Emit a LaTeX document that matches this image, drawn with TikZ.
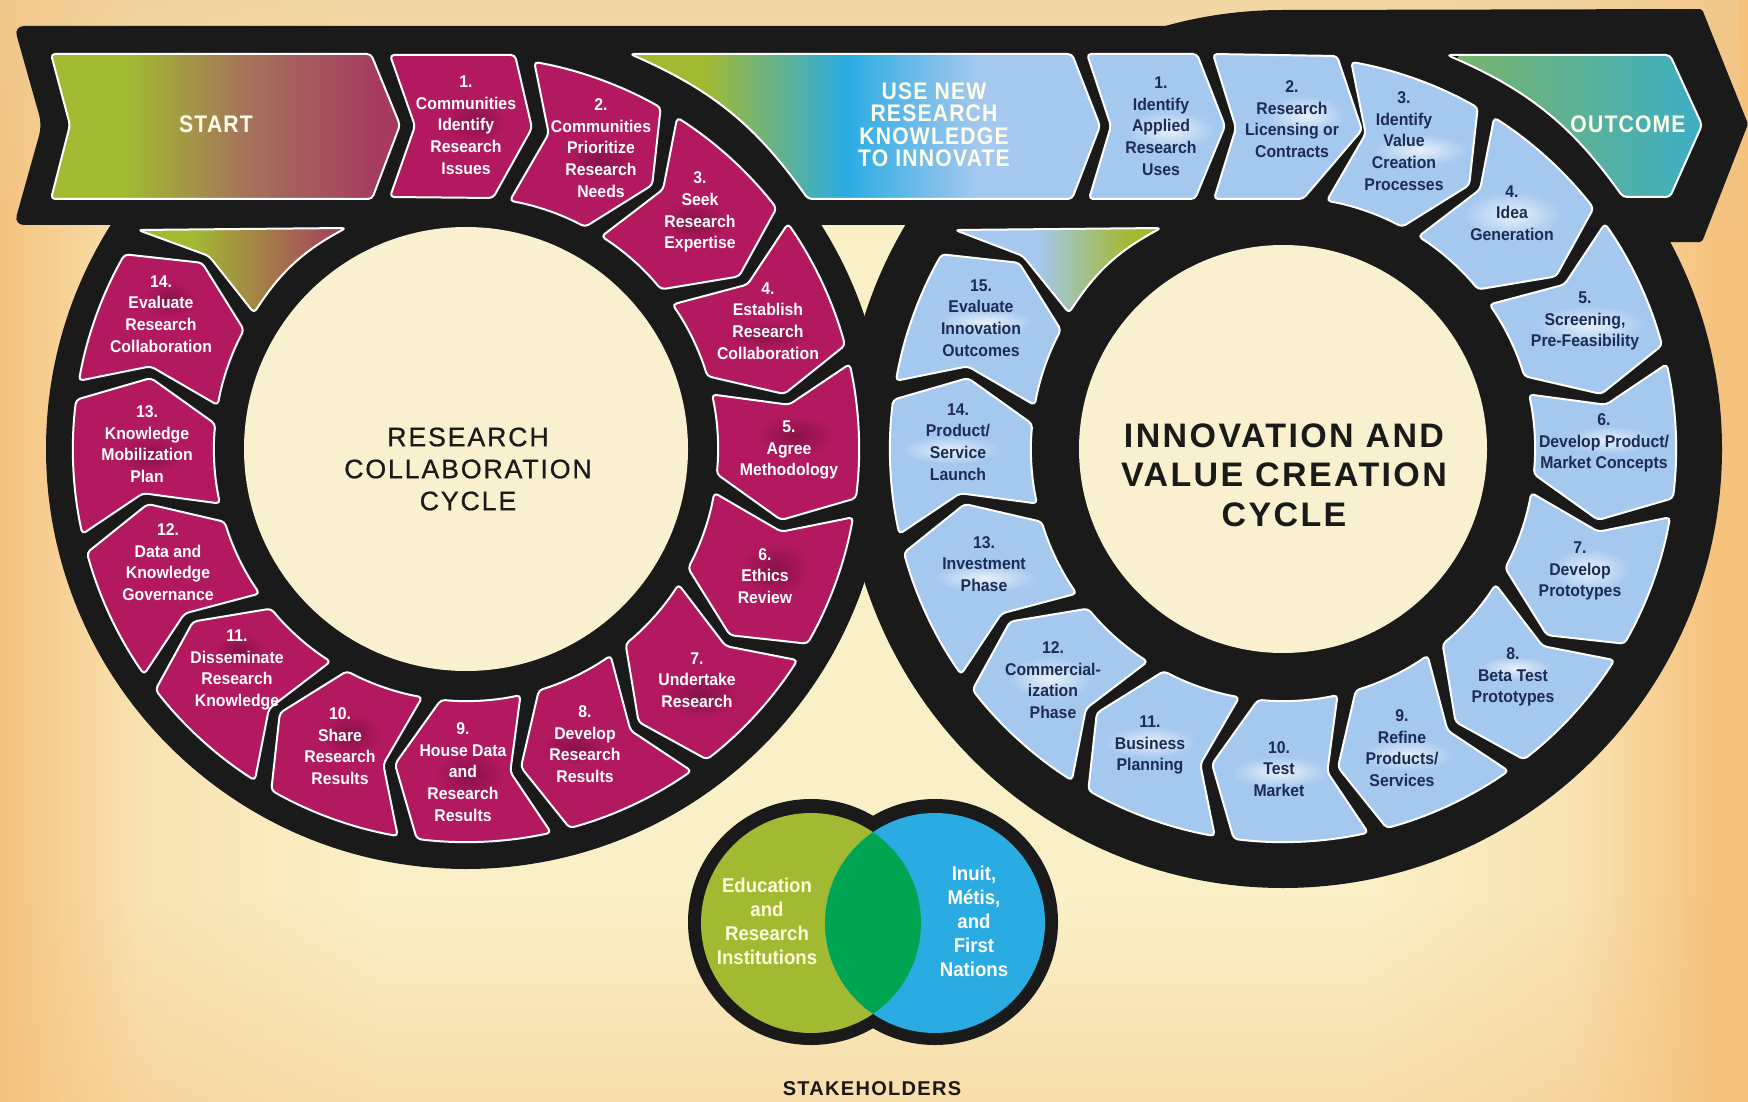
\documentclass[tikz,border=0pt]{standalone}
\usepackage{fontspec}
\usetikzlibrary{calc,fadings}
\setmainfont{Liberation Sans}
\newfontfamily\segf[FakeStretch=0.93]{Liberation Sans Bold}
\newfontfamily\headf[FakeStretch=0.88,LetterSpace=5]{Liberation Sans Bold}
\newfontfamily\cycf[LetterSpace=7,FakeBold=0.7]{Liberation Sans}
\newfontfamily\cycb[LetterSpace=7]{Liberation Sans Bold}
\newfontfamily\stakef[LetterSpace=6.5]{Liberation Sans Bold}
\definecolor{ink}{HTML}{1A1A1A}
\definecolor{crim}{HTML}{B3195E}
\definecolor{crimd}{HTML}{6A0F3A}
\definecolor{lblue}{HTML}{A4C8EE}
\definecolor{navy}{HTML}{1D2C55}
\definecolor{cream}{HTML}{F8F0CE}
\definecolor{gr}{HTML}{A2B932}
\definecolor{grb}{HTML}{8CB64A}
\definecolor{cy}{HTML}{2AACE2}
\definecolor{lens}{HTML}{00A551}
\definecolor{tanA}{HTML}{F5C27E}
\definecolor{tanB}{HTML}{FAF0C8}
\definecolor{tanC}{HTML}{F9E3B2}
\definecolor{tanT}{HTML}{EFCB92}
\definecolor{mauve}{HTML}{A63A60}
\definecolor{brown}{HTML}{A5735A}
\pgfdeclarehorizontalshading{bgh}{100bp}{color(0bp)=(tanA);color(25bp)=(tanA);color(29bp)=(tanC);color(36bp)=(tanB);color(64bp)=(tanB);color(70bp)=(tanC);color(74bp)=(tanA);color(100bp)=(tanA)}
\pgfdeclarehorizontalshading{usenew}{100bp}{color(0bp)=(gr);color(33bp)=(gr);color(48bp)=(cy);color(62bp)=(lblue);color(100bp)=(lblue)}
\pgfdeclarehorizontalshading{startg}{100bp}{color(0bp)=(gr);color(36bp)=(gr);color(53bp)=(brown);color(72bp)=(mauve);color(100bp)=(mauve)}
\pgfdeclarehorizontalshading{trileft}{100bp}{color(0bp)=(gr);color(38bp)=(gr);color(75bp)=(mauve);color(100bp)=(mauve)}
\pgfdeclarehorizontalshading{triright}{100bp}{color(0bp)=(lblue);color(45bp)=(lblue);color(67bp)=(gr);color(100bp)=(gr)}
\tikzfading[name=topfade,top color=transparent!30,bottom color=transparent!100]
\tikzfading[name=botfade,bottom color=transparent!60,top color=transparent!100]
\tikzfading[name=blot,inner color=transparent!0,outer color=transparent!100]
\tikzset{
  panel/.style={draw=white,line width=2pt,rounded corners=4pt,line join=round},
  redseg/.style={panel,fill=crim},
  blueseg/.style={panel,fill=lblue},
  redtext/.style={align=center,inner sep=0pt,text=white,font=\segf\fontsize{17}{21.7}\selectfont},
  bluetext/.style={align=center,inner sep=0pt,text=navy,font=\segf\fontsize{17}{21.7}\selectfont},
  headtext/.style={align=center,inner sep=0pt,text=white!92!yellow,font=\headf\fontsize{24}{22.5}\selectfont},
  venntext/.style={align=center,inner sep=0pt,font=\segf\fontsize{20}{24}\selectfont}
}
\newcommand{\ringseg}[4]{%
  \pgfmathsetmacro\aone{#3-19.7}
  \pgfmathsetmacro\ain{\aone+1.5}
  \path[#4] ($(#1,#2)+(#3:393)$) arc[start angle=#3,end angle=\aone,radius=393]
    -- ($(#1,#2)+(\aone-5.5:323)$)
    -- ($(#1,#2)+(\ain:252)$) arc[start angle=\ain,end angle=#3,radius=252]
    -- ($(#1,#2)+(#3-4.7:326)$) -- cycle;
}
\newcommand{\darkblot}[4]{\fill[crimd,opacity=.6,path fading=blot] (#1,#2) ellipse[x radius=#3,y radius=#4];}
\newcommand{\cloud}[4]{\fill[white,opacity=.75,path fading=blot] (#1,#2) ellipse[x radius=#3,y radius=#4];}
\begin{document}
\begin{tikzpicture}[x=1pt,y=1pt]
\useasboundingbox (0,0) rectangle (1748,-1102);
% paper
\shade[shading=bgh] (0,0) rectangle (1748,-1102);
\fill[tanT,path fading=topfade] (0,0) rectangle (1748,-240);
\fill[tanA,path fading=botfade] (0,-900) rectangle (1748,-1102);
% black body
\fill[ink] (466,-449) circle[radius=420];
\fill[ink] (1283,-449) circle[radius=439];
\fill[ink,rounded corners=10pt] (14,-26) -- (1283,-26) -- (1283,-100) -- (1283,-225) -- (14,-225) -- (42,-125) -- cycle;
\fill[ink] (1283,-10) [rounded corners=2pt] -- (1702,-9) -- (1748,-124) -- (1702,-242) [sharp corners] -- (1283,-242) -- cycle;
\fill[cream] (466,-449) circle[radius=222];
\fill[cream] (1283,-449) circle[radius=204];
% top band arrows
\draw[panel,shading=startg] (200,-54) -- (371,-54) -- (400,-125) -- (372,-199) -- (51,-199) -- (70,-125) -- (51,-54) -- cycle;
\draw[panel,shading=usenew] (800,-54) -- (1072,-54) -- (1100,-126) -- (1072,-199) -- (808,-199) to[bend right=15.6] (630,-54) -- cycle;
\begin{scope}
\clip[rounded corners=4pt] (1560,-55) -- (1670,-55) -- (1702,-125) -- (1670,-197) -- (1623,-197) to[bend right=15.6] (1447,-55) -- cycle;
\shade[left color=grb,right color=cy,rotate around={-25:(1575,-126)}] (1440,-320) rectangle (1710,70);
\end{scope}
\draw[panel] (1560,-55) -- (1670,-55) -- (1702,-125) -- (1670,-197) -- (1623,-197) to[bend right=15.6] (1447,-55) -- cycle;
% triangles
\draw[panel,shading=trileft] (240,-229) -- (346,-228) to[bend right=14.4] (254,-313) -- (209,-256) -- (138,-230) -- cycle;
\draw[panel,shading=triright] (1060,-229) -- (1161,-228) to[bend right=14.4] (1069,-313) -- (1023,-256) -- (955,-230) -- cycle;
% red segments
\path[redseg] (390,-55) -- (515,-55) -- (532,-128) -- (493,-198) -- (390,-197) -- (415,-126) -- cycle;
\foreach \a in {80,57.5,35,12.5,-10,-32.5,-55,-77.5,-100,-122.5,-145,-167.5,-190}{\ringseg{466}{-449}{\a}{redseg}}
% blue segments
\path[blueseg] (1087,-54) -- (1197,-54) -- (1225,-126) -- (1195,-199) -- (1089,-199) -- (1111,-126) -- cycle;
\path[blueseg] (1213,-54) -- (1337,-56) -- (1362,-130) -- (1303,-199) -- (1214,-199) -- (1236,-128) -- cycle;
\foreach \a in {80,57.5,35,12.5,-10,-32.5,-55,-77.5,-100,-122.5,-145,-167.5,-190}{\ringseg{1283}{-449}{\a}{blueseg}}
% blotches behind the labels
\darkblot{475}{-122}{30}{20}\darkblot{600}{-160}{32}{24}\darkblot{695}{-222}{32}{22}\darkblot{768}{-335}{40}{14}
\darkblot{795}{-436}{38}{20}\darkblot{775}{-570}{34}{28}\darkblot{700}{-695}{38}{24}\darkblot{575}{-748}{34}{16}
\darkblot{470}{-775}{34}{24}\darkblot{350}{-735}{30}{22}\darkblot{240}{-650}{24}{18}\darkblot{150}{-455}{34}{18}\darkblot{170}{-300}{26}{18}
\cloud{1170}{-130}{45}{20}\cloud{1305}{-115}{40}{20}\cloud{1420}{-150}{48}{16}\cloud{1512}{-215}{50}{24}
\cloud{1590}{-325}{55}{20}\cloud{1610}{-440}{45}{14}\cloud{1590}{-570}{40}{22}\cloud{1515}{-668}{38}{12}
\cloud{1408}{-755}{45}{16}\cloud{1280}{-772}{50}{16}\cloud{1150}{-742}{46}{16}\cloud{1050}{-678}{42}{22}
\cloud{985}{-578}{52}{14}\cloud{950}{-450}{50}{14}\cloud{985}{-322}{48}{14}
% head labels
\node[headtext] (start) at (216,-124) {START};
\node[headtext] (usenew) at (934,-124.5) {USE NEW\\RESEARCH\\KNOWLEDGE\\TO INNOVATE};
\node[headtext] (outcome) at (1628,-124) {OUTCOME};
% red labels
\node[redtext] (r1) at (466,-125) {1.\\Communities\\Identify\\Research\\Issues};
\node[redtext] (r2) at (601,-148) {2.\\Communities\\Prioritize\\Research\\Needs};
\node[redtext] (r3) at (700,-212) {3.\\Seek\\Research\\Expertise};
\node[redtext] (r4) at (768,-321) {4.\\Establish\\Research\\Collaboration};
\node[redtext] (r5) at (789,-450) {5.\\Agree\\Methodology};
\node[redtext] (r6) at (765,-576) {6.\\Ethics\\Review};
\node[redtext] (r7) at (697,-680) {7.\\Undertake\\Research};
\node[redtext] (r8) at (585,-744) {8.\\Develop\\Research\\Results};
\node[redtext] (r9) at (463,-772) {9.\\House Data\\and\\Research\\Results};
\node[redtext] (r10) at (340,-746) {10.\\Share\\Research\\Results};
\node[redtext] (r11) at (237,-670) {11.\\Disseminate\\Research\\Knowledge};
\node[redtext] (r12) at (168,-562) {12.\\Data and\\Knowledge\\Governance};
\node[redtext] (r13) at (147,-444) {13.\\Knowledge\\Mobilization\\Plan};
\node[redtext] (r14) at (161,-314) {14.\\Evaluate\\Research\\Collaboration};
% blue labels
\node[bluetext] (b1) at (1161,-126) {1.\\Identify\\Applied\\Research\\Uses};
\node[bluetext] (b2) at (1292,-119) {2.\\Research\\Licensing or\\Contracts};
\node[bluetext] (b3) at (1404,-141) {3.\\Identify\\Value\\Creation\\Processes};
\node[bluetext] (b4) at (1512,-213) {4.\\Idea\\Generation};
\node[bluetext] (b5) at (1585,-321) {5.\\Screening,\\Pre-Feasibility};
\node[bluetext] (b6) at (1604,-443) {6.\\Develop Product/\\Market Concepts};
\node[bluetext] (b7) at (1580,-571) {7.\\Develop\\Prototypes};
\node[bluetext] (b8) at (1513,-677) {8.\\Beta Test\\Prototypes};
\node[bluetext] (b9) at (1402,-748) {9.\\Refine\\Products/\\Services};
\node[bluetext] (b10) at (1279,-769) {10.\\Test\\Market};
\node[bluetext] (b11) at (1150,-745) {11.\\Business\\Planning};
\node[bluetext] (b12) at (1053,-680) {12.\\Commercial-\\ization\\Phase};
\node[bluetext] (b13) at (984,-564) {13.\\Investment\\Phase};
\node[bluetext] (b14) at (958,-442) {14.\\Product/\\Service\\Launch};
\node[bluetext] (b15) at (981,-318) {15.\\Evaluate\\Innovation\\Outcomes};
% cycle titles
\node[align=center,inner sep=0pt,text=ink,font=\cycf\fontsize{26.7}{32}\selectfont] (rcc) at (468,-469) {RESEARCH\\COLLABORATION\\CYCLE};
\node[align=center,inner sep=0pt,text=ink,font=\cycb\fontsize{34}{39.5}\selectfont] (ivc) at (1284,-475) {INNOVATION AND\\VALUE CREATION\\CYCLE};
% stakeholders
\fill[ink] (811,-922) circle[radius=123];
\fill[ink] (935,-922) circle[radius=123];
\fill[gr] (811,-923) circle[radius=110];
\fill[cy] (935,-923) circle[radius=110];
\begin{scope}
\clip (811,-923) circle[radius=110];
\fill[lens] (935,-923) circle[radius=110];
\end{scope}
\node[venntext,text=white!85!yellow] (edu) at (767,-921) {Education\\and\\Research\\Institutions};
\node[venntext,text=white] (inuit) at (974,-921) {Inuit,\\Métis,\\and\\First\\Nations};
\node[inner sep=0pt,text=ink,font=\stakef\fontsize{20}{24}\selectfont] (stake) at (872,-1089) {STAKEHOLDERS};
\end{tikzpicture}
\end{document}
